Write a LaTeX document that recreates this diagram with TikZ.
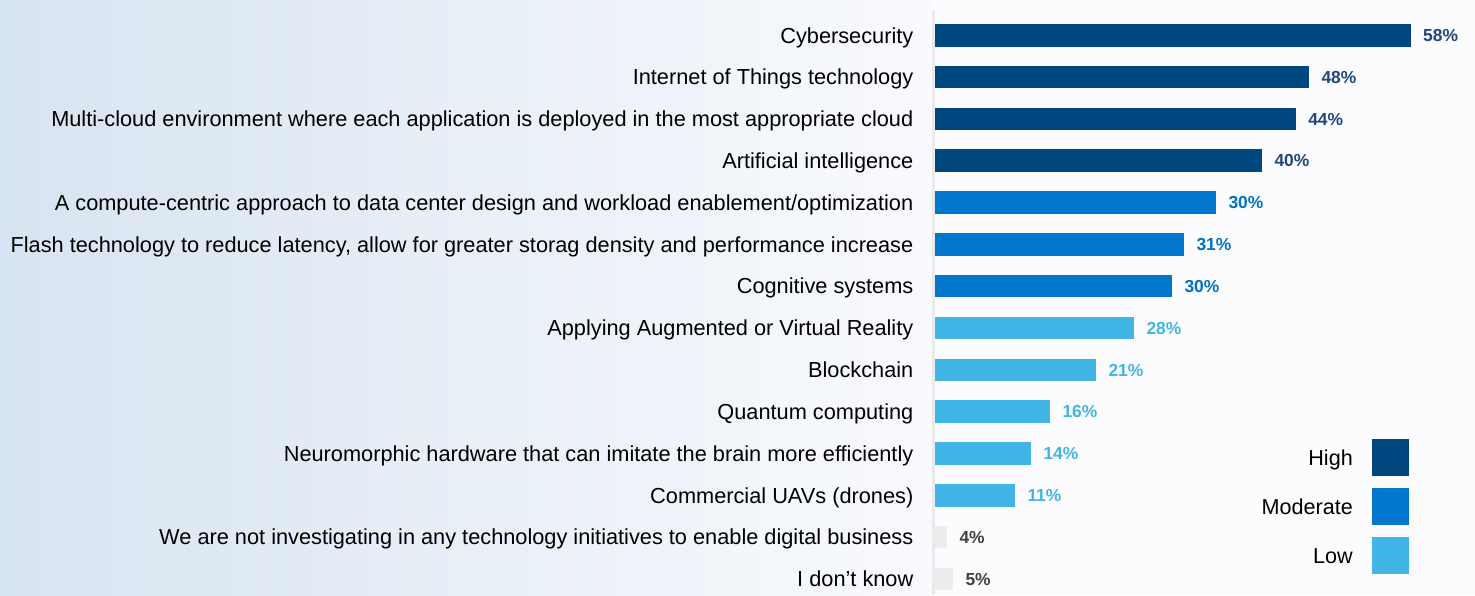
\documentclass[tikz,border=0pt]{standalone}
\usepackage{fontspec}
\setmainfont{Liberation Sans}
\definecolor{bgL}{RGB}{215,228,241}
\definecolor{bgR}{RGB}{249,250,253}
\definecolor{bgW}{RGB}{252,252,254}
\definecolor{axisgray}{RGB}{234,234,238}
\definecolor{hiC}{RGB}{0,70,127}
\definecolor{modC}{RGB}{0,119,204}
\definecolor{lowC}{RGB}{65,182,230}
\definecolor{grayC}{RGB}{237,237,237}
\definecolor{hiT}{RGB}{30,72,126}
\definecolor{modT}{RGB}{0,114,198}
\definecolor{lowT}{RGB}{65,182,230}
\definecolor{grayT}{RGB}{64,64,64}
\tikzset{
  catlabel/.style={anchor=base east, inner sep=0pt, font=\fontsize{21.75}{24}\selectfont, text=black},
  vallabel/.style={anchor=base west, inner sep=0pt, font=\fontsize{17.4}{20}\selectfont\bfseries},
  legtext/.style={anchor=base east, inner sep=0pt, font=\fontsize{21.6}{24}\selectfont, text=black},
  legbox/.style={minimum width=36.8pt, minimum height=36.7pt, inner sep=0pt, anchor=north west},
}
\begin{document}
\begin{tikzpicture}[x=1pt,y=-1pt]
\useasboundingbox (0,0) rectangle (1475,595);
\shade[left color=bgL, right color=bgR] (0,0) rectangle (932,595);
\fill[bgW] (932,0) rectangle (1475,595);
\fill[axisgray] (931.7,10) rectangle (934.5,595);
\foreach \lab/\xend/\c/\v [count=\i from 0] in {
  {Cybersecurity}/1410.7/hi/58,
  {Internet of Things technology}/1309/hi/48,
  {Multi-cloud environment where each application is deployed in the most appropriate cloud}/1295.8/hi/44,
  {Artificial intelligence}/1262/hi/40,
  {A compute-centric approach to data center design and workload enablement/optimization}/1216/mod/30,
  {Flash technology to reduce latency, allow for greater storag density and performance increase}/1184/mod/31,
  {Cognitive systems}/1172/mod/30,
  {Applying Augmented or Virtual Reality}/1134/low/28,
  {Blockchain}/1096/low/21,
  {Quantum computing}/1050/low/16,
  {Neuromorphic hardware that can imitate the brain more efficiently}/1031/low/14,
  {Commercial UAVs (drones)}/1015/low/11,
  {We are not investigating in any technology initiatives to enable digital business}/947/gray/4,
  {I don’t know}/953/gray/5}
{
  \pgfmathsetmacro{\yc}{35.25+41.82*\i}
  \fill[\c C] (935,\yc-11.25) rectangle (\xend,\yc+11.25);
  \node[catlabel] (lab\i) at (913.5,\yc+7.8) {\lab};
  \node[vallabel, text=\c T] (val\i) at (\xend+12.3,\yc+6.2) {\v\%};
}
\node[legbox, fill=hiC] (boxH) at (1372,439) {};
\node[legbox, fill=modC] (boxM) at (1372,488) {};
\node[legbox, fill=lowC] (boxL) at (1372,537) {};
\node[legtext] (legH) at (1353,457.3+7.7) {High};
\node[legtext] (legM) at (1353,506.3+7.7) {Moderate};
\node[legtext] (legL) at (1353,555.3+7.7) {Low};
\end{tikzpicture}
\end{document}
